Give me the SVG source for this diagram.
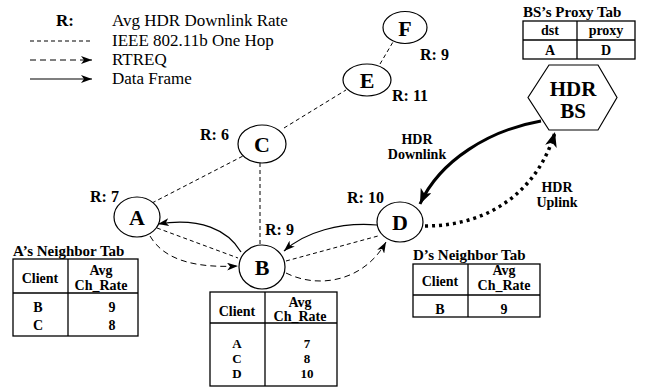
<svg xmlns="http://www.w3.org/2000/svg" width="646" height="390" viewBox="0 0 646 390">
<style>
text{font-family:"Liberation Serif","Times New Roman",serif;fill:#000}
.b{font-weight:bold}
.lg{font-size:17px}
.nd{font-size:22px;font-weight:bold;text-anchor:middle}
.r{font-size:16px;font-weight:bold}
.tt{font-size:15px;font-weight:bold}
.tc{font-size:14px;font-weight:bold;text-anchor:middle}
.tr{font-size:13px}
.node{fill:#fff;stroke:#000;stroke-width:1.2}
.tab{fill:#fff;stroke:#000;stroke-width:1.3}
.hop{fill:none;stroke:#000;stroke-width:1;stroke-dasharray:4 3}
.rt{fill:none;stroke:#000;stroke-width:1;stroke-dasharray:6 4}
.df{fill:none;stroke:#000;stroke-width:1.2}
</style>
<defs>
<marker id="ah" markerUnits="userSpaceOnUse" markerWidth="12" markerHeight="8" refX="11" refY="4" orient="auto"><path d="M0,0 L11,4 L0,8 L3,4 z" fill="#000"/></marker>
<marker id="ahb" markerUnits="userSpaceOnUse" markerWidth="16" markerHeight="12" refX="15" refY="6" orient="auto"><path d="M0,0 L15,6 L0,12 L4,6 z" fill="#000"/></marker>
</defs>
<g id="legend">
<text class="lg b" x="56" y="26">R:</text>
<text class="lg" x="112" y="26">Avg HDR Downlink Rate</text>
<line class="hop" x1="30" y1="41" x2="92" y2="41"/>
<text class="lg" x="112" y="46">IEEE 802.11b One Hop</text>
<line class="rt" x1="30" y1="60" x2="92" y2="60" marker-end="url(#ah)"/>
<text class="lg" x="112" y="65">RTREQ</text>
<line class="df" x1="30" y1="79" x2="92" y2="79" marker-end="url(#ah)"/>
<text class="lg" x="112" y="84">Data Frame</text>
</g>
<g id="connectors">
<path class="hop" d="M152,203 L243,156"/>
<path class="hop" d="M260,163 L260,245"/>
<path class="hop" d="M284,128 L346,90"/>
<path class="hop" d="M380,64 L393,42"/>
<path class="hop" d="M157,228 L238,258"/>
<path class="hop" d="M286,261 L378,236"/>
<path class="rt" d="M150,236 C165,262 200,268 238,266" marker-end="url(#ah)"/>
<path class="rt" d="M286,273 C320,290 365,280 386,242" marker-end="url(#ah)"/>
<path class="df" d="M241,252 C228,230 200,217 158,224" marker-end="url(#ah)"/>
<path class="df" d="M377,225 C340,222 305,232 284,251" marker-end="url(#ah)"/>
<path fill="none" stroke="#000" stroke-width="3" d="M541,121 C490,130 440,160 420,204" marker-end="url(#ahb)"/>
<path fill="none" stroke="#000" stroke-width="3.5" stroke-dasharray="3 4" d="M425,226 C495,226 540,185 555,132" marker-end="url(#ahb)"/>
<text class="tc" x="417" y="144">HDR</text>
<text class="tc" x="417" y="159">Downlink</text>
<text class="tc" x="557" y="192">HDR</text>
<text class="tc" x="557" y="207">Uplink</text>
</g>
<g id="F"><ellipse class="node" cx="405" cy="27.5" rx="22" ry="16"/><text class="nd" x="405" y="35.5">F</text><text class="r" x="420" y="60">R: 9</text></g>
<g id="E"><ellipse class="node" cx="367" cy="80" rx="24" ry="16"/><text class="nd" x="367" y="88">E</text><text class="r" x="392" y="101">R: 11</text></g>
<g id="C"><ellipse class="node" cx="262" cy="144" rx="24" ry="19"/><text class="nd" x="262" y="152">C</text><text class="r" x="200" y="140">R: 6</text></g>
<g id="A"><ellipse class="node" cx="137" cy="217" rx="23" ry="20"/><text class="nd" x="137" y="225">A</text><text class="r" x="90" y="202">R: 7</text></g>
<g id="B"><ellipse class="node" cx="262" cy="267" rx="23" ry="22"/><text class="nd" x="262" y="275">B</text><text class="r" x="265" y="235">R: 9</text></g>
<g id="D"><ellipse class="node" cx="400" cy="222" rx="23" ry="20"/><text class="nd" x="400" y="230">D</text><text class="r" x="347" y="203">R: 10</text></g>
<g id="BS">
<polygon class="node" points="528,97.5 549,65 598,65 617,97.5 598,130 549,130"/>
<text class="b" x="573" y="96" font-size="21" text-anchor="middle">HDR</text>
<text class="b" x="573" y="118" font-size="21" text-anchor="middle">BS</text>
</g>
<g id="bs-proxy-tab">
<text class="tt" x="523" y="17">BS’s Proxy Tab</text>
<rect class="tab" x="523" y="21" width="112" height="38"/>
<line stroke="#000" stroke-width="1.3" x1="577" y1="21" x2="577" y2="59"/>
<line stroke="#000" stroke-width="1.3" x1="523" y1="40" x2="635" y2="40"/>
<text class="tc" x="550" y="35">dst</text><text class="tc" x="606" y="35">proxy</text>
<text class="tc" x="550" y="55">A</text><text class="tc" x="606" y="55">D</text>
</g>
<g id="a-tab">
<text class="tt" x="13" y="256">A’s Neighbor Tab</text>
<rect class="tab" x="13" y="259" width="125" height="77"/>
<line stroke="#000" stroke-width="1.3" x1="68" y1="259" x2="68" y2="336"/>
<line stroke="#000" stroke-width="1.3" x1="13" y1="293" x2="138" y2="293"/>
<text class="tc" x="40" y="283">Client</text>
<text class="tc" x="101" y="275">Avg</text><text class="tc" x="101" y="290">Ch_Rate</text>
<text class="tc" x="38" y="312">B</text><text class="tc" x="112" y="312">9</text>
<text class="tc" x="38" y="330">C</text><text class="tc" x="112" y="330">8</text>
</g>
<g id="b-tab">
<rect class="tab" x="210" y="292" width="127" height="94"/>
<line stroke="#000" stroke-width="1.3" x1="265" y1="292" x2="265" y2="386"/>
<line stroke="#000" stroke-width="1.3" x1="210" y1="323" x2="337" y2="323"/>
<text class="tc" x="237" y="316">Client</text>
<text class="tc" x="300" y="307">Avg</text><text class="tc" x="300" y="321">Ch_Rate</text>
<text class="tc tr" x="237" y="348">A</text><text class="tc tr" x="307" y="348">7</text>
<text class="tc tr" x="237" y="363">C</text><text class="tc tr" x="307" y="363">8</text>
<text class="tc tr" x="237" y="378">D</text><text class="tc tr" x="307" y="378">10</text>
</g>
<g id="d-tab">
<text class="tt" x="413" y="260">D’s Neighbor Tab</text>
<rect class="tab" x="413" y="264" width="127" height="53"/>
<line stroke="#000" stroke-width="1.3" x1="468" y1="264" x2="468" y2="317"/>
<line stroke="#000" stroke-width="1.3" x1="413" y1="295" x2="540" y2="295"/>
<text class="tc" x="440" y="286">Client</text>
<text class="tc" x="504" y="275">Avg</text><text class="tc" x="504" y="290">Ch_Rate</text>
<text class="tc" x="440" y="314">B</text><text class="tc" x="504" y="314">9</text>
</g>
</svg>
